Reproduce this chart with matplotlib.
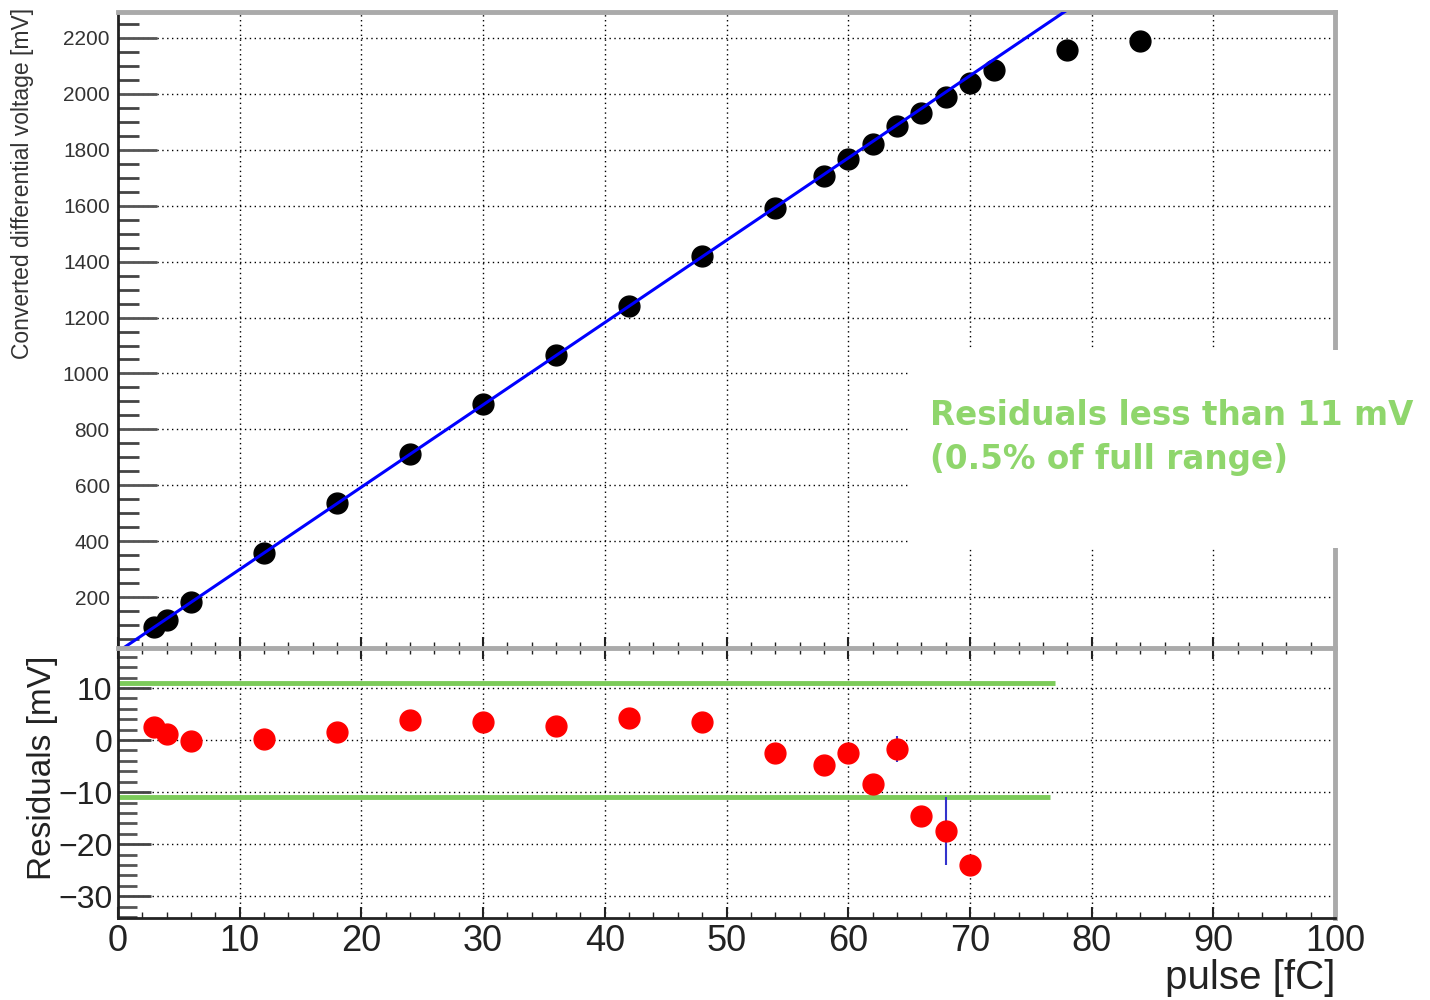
import numpy as np
import matplotlib.pyplot as plt
from matplotlib.patches import Rectangle
from matplotlib.ticker import MultipleLocator

plt.rcParams['font.family'] = ['Liberation Sans', 'DejaVu Sans']

# measured points: injected charge [fC] vs converted voltage [mV]
pulse = [3, 4, 6, 12, 18, 24, 30, 36, 42, 48, 54, 58, 60, 62, 64, 66, 68, 70, 72, 78, 84]
voltage = [93, 118, 182, 358, 537, 712, 891, 1066, 1241, 1420, 1592, 1707, 1767,
           1821, 1885, 1932, 1989, 2039, 2086, 2157, 2190]

# linear fit (intercept, slope) and the range it was drawn over
fit_intercept = 4.9
fit_slope = 29.43
fit_range = [0, 80]

# residuals of the points inside the fit range
res_pulse = [3, 4, 6, 12, 18, 24, 30, 36, 42, 48, 54, 58, 60, 62, 64, 66, 68, 70]
residuals = [2.5, 1.2, -0.2, 0.2, 1.5, 3.8, 3.5, 2.7, 4.2, 3.5, -2.5, -4.8, -2.5,
             -8.5, -1.7, -14.6, -17.5, -24.0]
res_err = [0, 0, 0, 0, 0, 0, 0, 0, 0, 0, 0, 0, 0, 0, 2.5, 0, 6.5, 0]
limit = 11
limit_end = [77, 76.6]

fig = plt.figure(figsize=(14.3, 10), dpi=100)
ax1 = fig.add_axes([0.0825, 0.352, 0.8511, 0.636])
ax2 = fig.add_axes([0.0825, 0.082, 0.8511, 0.270])

grid_style = dict(color='black', linestyle=(0, (1, 2.5)), linewidth=1.0)

for ax in (ax1, ax2):
    ax.set_xlim(0, 100)
    ax.xaxis.set_major_locator(MultipleLocator(10))
    ax.xaxis.set_minor_locator(MultipleLocator(2))
    ax.grid(True, which='major', **grid_style)
    ax.set_axisbelow(True)
    ax.spines['left'].set_color('#222222')
    ax.spines['left'].set_linewidth(2)
    ax.spines['bottom'].set_color('#222222')
    ax.spines['bottom'].set_linewidth(2)
    ax.spines['top'].set_color('#aaaaaa')
    ax.spines['top'].set_linewidth(3.5)
    ax.spines['right'].set_color('#aaaaaa')
    ax.spines['right'].set_linewidth(3.5)
    ax.tick_params(axis='x', which='major', direction='in', length=8, width=1.5, color='#222222')
    ax.tick_params(axis='x', which='minor', direction='in', length=4, width=1, color='#222222')

# upper panel
fit_x = np.array(fit_range)
ax1.plot(pulse, voltage, 'o', color='black', ms=15, zorder=3)
ax1.plot(fit_x, fit_intercept + fit_slope * fit_x, color='#0000ff', lw=2.2, zorder=4)
ax1.set_ylim(18, 2293)
ax1.yaxis.set_major_locator(MultipleLocator(200))
ax1.yaxis.set_minor_locator(MultipleLocator(50))
ax1.tick_params(axis='y', which='major', direction='in', length=28, width=2,
                color='#555555', labelsize=15, labelcolor='#333333', pad=6)
ax1.tick_params(axis='y', which='minor', direction='in', length=15, width=2, color='#444444')
ax1.set_yticks([200, 400, 600, 800, 1000, 1200, 1400, 1600, 1800, 2000, 2200])
ax1.tick_params(axis='x', labelbottom=False)
fig.text(0.016, 0.992, 'Converted differential voltage [mV]', rotation=90,
         ha='center', va='top', fontsize=16.5, color='#333333')

# lower panel
ax2.errorbar(res_pulse, residuals, yerr=res_err, fmt='o', color='#ff0000',
             ms=15, ecolor='#3333cc', elinewidth=1.5, capsize=0, zorder=3)
ax2.hlines([limit, -limit], 0, limit_end, color='#7ccb5a', lw=3.5, zorder=2)
ax2.set_ylim(-34.2, 17.7)
ax2.yaxis.set_major_locator(MultipleLocator(10))
ax2.yaxis.set_minor_locator(MultipleLocator(2))
ax2.tick_params(axis='y', which='major', direction='in', length=24, width=2,
                color='#444444', labelsize=23, labelcolor='#222222', pad=4)
ax2.tick_params(axis='y', which='minor', direction='in', length=14, width=2, color='#555555')
ax2.tick_params(axis='x', which='major', labelsize=26, labelcolor='#222222', pad=4, top=True)
ax2.tick_params(axis='x', which='minor', top=True)
ax2.set_yticks([-30, -20, -10, 0, 10])
fig.text(0.030, 0.232, 'Residuals [mV]', rotation=90, ha='center', va='center',
         fontsize=24, color='#222222')
fig.text(0.9336, 0.022, 'pulse [fC]', ha='right', va='center', fontsize=29,
         color='#222222')

# annotation box
fig.add_artist(Rectangle((910 / 1430, 1 - 548 / 1000), (1430 - 910) / 1430, 198 / 1000,
                         transform=fig.transFigure, facecolor='white',
                         edgecolor='none', zorder=10))
fig.text(930 / 1430, 1 - 416 / 1000, 'Residuals less than 11 mV', ha='left',
         va='center', fontsize=23.5, fontweight='bold', color='#8fd66c',
         family='DejaVu Sans', zorder=11)
fig.text(930 / 1430, 1 - 459 / 1000, '(0.5% of full range)', ha='left',
         va='center', fontsize=23.5, fontweight='bold', color='#8fd66c',
         family='DejaVu Sans', zorder=11)

fig.savefig('out.png', dpi=100)
